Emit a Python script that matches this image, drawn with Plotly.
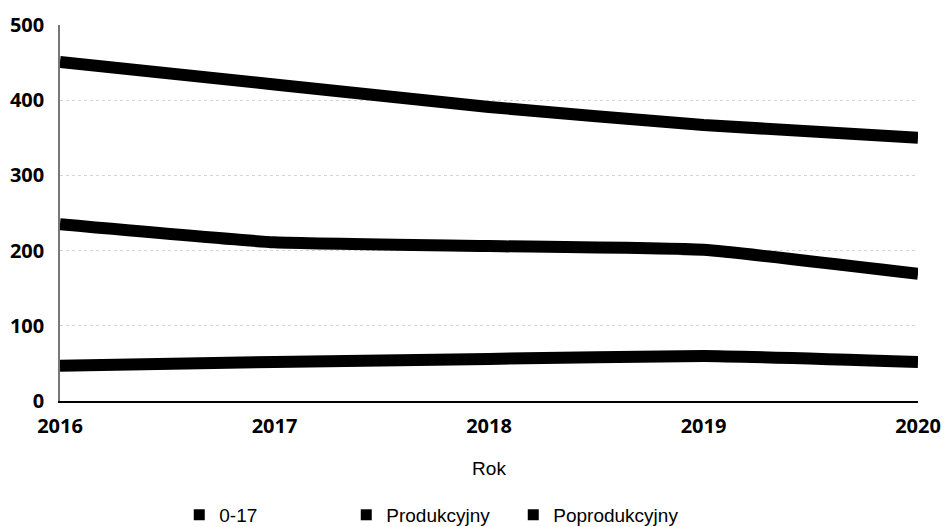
import plotly.graph_objects as go

years = [2016, 2017, 2018, 2019, 2020]
series_names = ["0-17", "Produkcyjny", "Poprodukcyjny"]
val_0_17 = [235, 211, 206, 201, 169]
val_produkcyjny = [451, 421, 391, 367, 350]
val_poprodukcyjny = [47, 52, 56, 60, 52]
y_ticks = [0, 100, 200, 300, 400, 500]

fig = go.Figure()
for name, vals in zip(series_names, [val_0_17, val_produkcyjny, val_poprodukcyjny]):
    fig.add_trace(go.Scatter(x=years, y=vals, mode="lines", name=name,
                             line=dict(color="black", width=12, shape="spline", smoothing=0.4),
                             showlegend=False))
    fig.add_trace(go.Scatter(x=[None], y=[None], mode="markers", name=name,
                             marker=dict(symbol="square", size=11, color="black")))

fig.update_layout(
    width=944, height=527,
    margin=dict(l=60, r=26, t=25, b=126, autoexpand=False),
    paper_bgcolor="white", plot_bgcolor="white",
    font=dict(family="Open Sans", color="black", size=18),
    legend=dict(orientation="h", x=0.139, y=-0.303, xanchor="left", yanchor="middle",
                entrywidth=122, entrywidthmode="pixels", itemwidth=30,
                font=dict(size=19, family="Liberation Sans")),
    showlegend=True,
)
fig.update_xaxes(range=[2016, 2020], tickvals=years, ticktext=[str(y) for y in years],
                 showline=True, linecolor="black", linewidth=1.5, showgrid=False,
                 automargin=False, ticklabelstandoff=6,
                 tickfont=dict(size=20, weight="bold"),
                 title=dict(text="Rok", font=dict(size=19, family="Liberation Sans"), standoff=24))
fig.update_yaxes(range=[0, 500], tickvals=y_ticks, showline=True, linecolor="#777", linewidth=1.5,
                 showgrid=True, gridcolor="#d4d4d4", griddash="dot", gridwidth=1,
                 automargin=False, ticklabelstandoff=10,
                 zeroline=False, tickfont=dict(size=20, weight="bold"), ticks="", ticklen=0)
fig.write_html("out.html", config={"displayModeBar": False},
               post_script="document.body.style.margin='0';document.body.style.overflow='hidden';")
